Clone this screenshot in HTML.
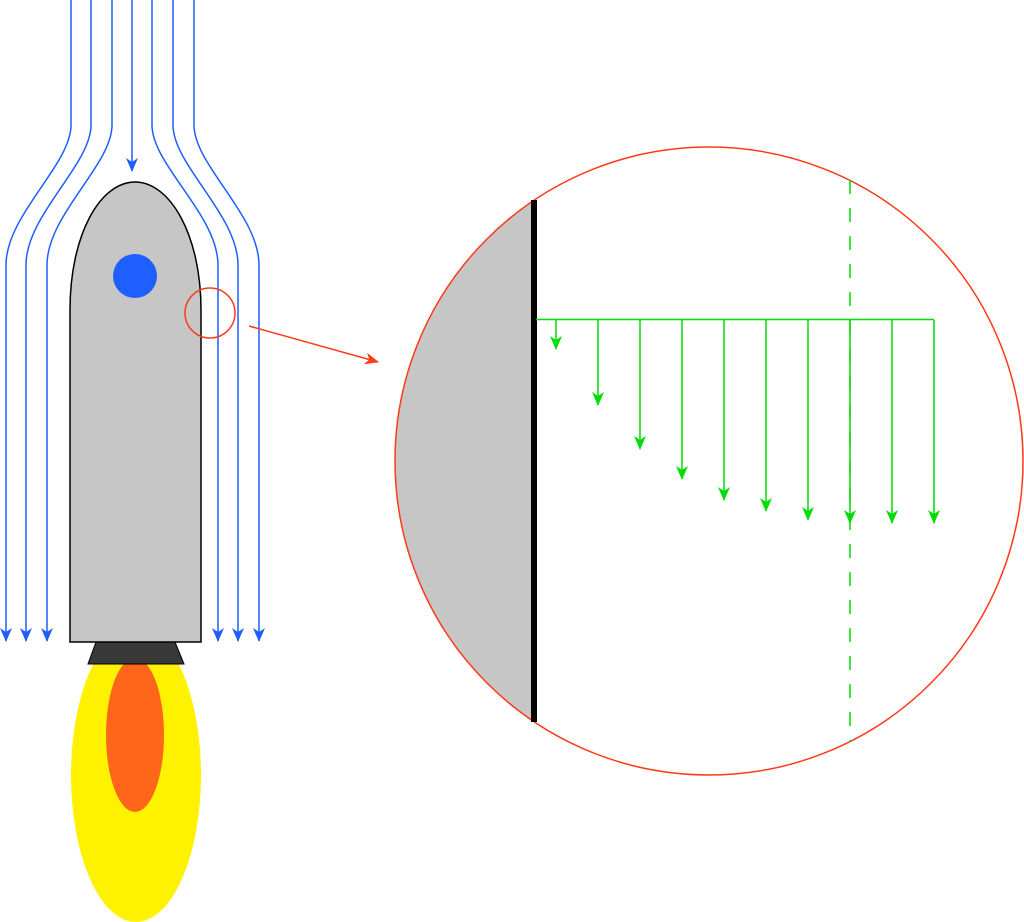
<!DOCTYPE html>
<html><head><style>html,body{margin:0;padding:0;background:#fff}svg{display:block}</style></head>
<body>
<svg width="1024" height="922" viewBox="0 0 1024 922" xmlns="http://www.w3.org/2000/svg">
<defs>
<marker id="ag" markerWidth="14" markerHeight="12" refX="13" refY="6" orient="auto" markerUnits="userSpaceOnUse" viewBox="0 0 14 12"><path d="M0 0 L4 6 L0 12 L14 6 Z" fill="#00dd00"/></marker>
<marker id="bb" markerWidth="14" markerHeight="12" refX="13" refY="6" orient="auto" markerUnits="userSpaceOnUse" viewBox="0 0 14 12"><path d="M0 0 L4 6 L0 12 L14 6 Z" fill="#1f5fff"/></marker>
<marker id="rr" markerWidth="14" markerHeight="12" refX="13" refY="6" orient="auto" markerUnits="userSpaceOnUse" viewBox="0 0 14 12"><path d="M0 0 L4 6 L0 12 L14 6 Z" fill="#ff3a1a"/></marker>
</defs>
<ellipse cx="136" cy="775" rx="65" ry="147" fill="#fff200"/>
<ellipse cx="135" cy="735" rx="29" ry="77" fill="#ff661a"/>
<polygon points="96,642 175,642 184,664 88,664" fill="#3a3939" stroke="#000" stroke-width="1"/>
<path d="M70 642 V310 C70 235 100 182 135 182 C170 182 201 235 201 310 V642 Z" fill="#c6c6c6" stroke="#000" stroke-width="1.5"/>
<circle cx="135" cy="276" r="22" fill="#1f5fff"/>
<g fill="none" stroke="#1f5fff" stroke-width="1.5" marker-end="url(#bb)">
<path d="M71 0 V125 C71 165 6 215 6 265 V641"/>
<path d="M91 0 V125 C91 165 26 215 26 265 V641"/>
<path d="M112 0 V125 C112 165 47 215 47 265 V641"/>
<path d="M132 0 V171"/>
<path d="M152 0 V125 C152 165 218 215 218 265 V641"/>
<path d="M173 0 V125 C173 165 238 215 238 265 V641"/>
<path d="M194 0 V125 C194 165 259 215 259 265 V641"/>
</g>
<circle cx="210" cy="313" r="25" fill="none" stroke="#ff3a1a" stroke-width="1.5"/>
<line x1="249" y1="326" x2="378" y2="362" stroke="#ff3a1a" stroke-width="1.5" marker-end="url(#rr)"/>
<clipPath id="cc"><circle cx="709" cy="461" r="314"/></clipPath>
<rect x="390" y="140" width="144" height="640" fill="#c6c6c6" clip-path="url(#cc)"/>
<circle cx="709" cy="461" r="314" fill="none" stroke="#ff3a1a" stroke-width="1.5"/>
<line x1="534" y1="200" x2="534" y2="722" stroke="#000" stroke-width="6"/>
<line x1="850" y1="180" x2="850" y2="742" stroke="#00dd00" stroke-width="1.5" stroke-dasharray="14,14"/>
<line x1="536" y1="319.5" x2="934" y2="319.5" stroke="#00dd00" stroke-width="1.5"/>
<g stroke="#00dd00" stroke-width="1.5" fill="none" marker-end="url(#ag)">
<line x1="556" y1="320" x2="556" y2="349"/>
<line x1="598" y1="320" x2="598" y2="405"/>
<line x1="640" y1="320" x2="640" y2="449"/>
<line x1="682" y1="320" x2="682" y2="479"/>
<line x1="724" y1="320" x2="724" y2="500"/>
<line x1="766" y1="320" x2="766" y2="511"/>
<line x1="808" y1="320" x2="808" y2="520"/>
<line x1="850" y1="320" x2="850" y2="523"/>
<line x1="892" y1="320" x2="892" y2="523"/>
<line x1="934" y1="320" x2="934" y2="523"/>
</g>
</svg>
</body></html>
